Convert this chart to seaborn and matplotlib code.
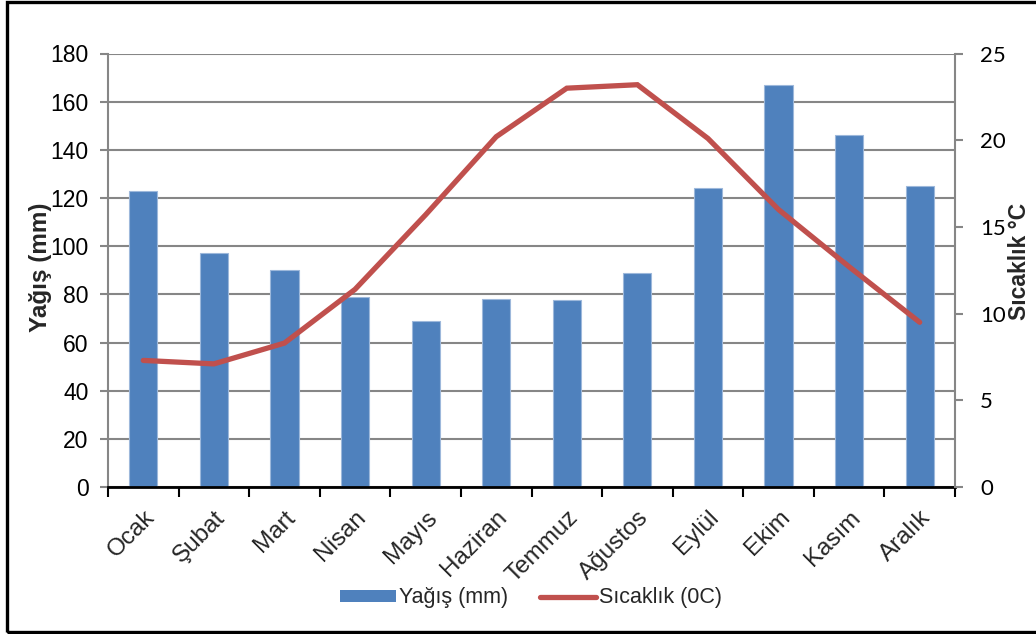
import matplotlib
matplotlib.use("Agg")
import matplotlib.pyplot as plt
import seaborn as sns
import pandas as pd
import numpy as np
from matplotlib.patches import Rectangle, Patch
from matplotlib.lines import Line2D
from matplotlib.ticker import MultipleLocator, FixedLocator

months = ["Ocak", "Şubat", "Mart", "Nisan", "Mayıs", "Haziran",
          "Temmuz", "Ağustos", "Eylül", "Ekim", "Kasım", "Aralık"]
rain_mm = [123, 97, 90, 79, 69, 78, 77.5, 89, 124, 167, 146, 125]
temp_c = [7.3, 7.1, 8.3, 11.4, 15.7, 20.2, 23.0, 23.2, 20.1, 16.0, 12.7, 9.5]

df = pd.DataFrame({"Ay": months, "Yağış": rain_mm, "Sıcaklık": temp_c})

sns.set_theme(style="white")
plt.rcParams["font.family"] = ["Liberation Sans", "DejaVu Sans"]

BAR = "#4F81BD"
LINE = "#C0504D"
GRID = "#868686"

fig = plt.figure(figsize=(10.36, 6.34), dpi=100)
ax = fig.add_axes([108 / 1036, 1 - 487 / 634, 847 / 1036, 433.5 / 634])

sns.barplot(data=df, x="Ay", y="Yağış", color=BAR, width=0.4,
            edgecolor="#9db8db", linewidth=0.8, saturation=1, ax=ax, zorder=3)
ax.set_xlim(-0.5, 11.5)
ax.set_ylim(0, 180)
ax.yaxis.set_major_locator(MultipleLocator(20))
ax.grid(axis="y", color=GRID, linewidth=1.5, zorder=0)
ax.set_axisbelow(True)

ax2 = ax.twinx()
sns.lineplot(x=np.arange(len(months)), y=temp_c, color=LINE, linewidth=3.8,
             ax=ax2, zorder=4, solid_capstyle="round", solid_joinstyle="miter")
ax2.set_ylim(0, 25)
ax2.set_xlim(-0.5, 11.5)
ax2.yaxis.set_major_locator(MultipleLocator(5))
ax2.grid(False)

# spines
for a in (ax, ax2):
    for s in a.spines.values():
        s.set_visible(False)
ax.spines["left"].set_visible(True)
ax.spines["left"].set_color(GRID)
ax.spines["left"].set_linewidth(1.5)
ax2.spines["right"].set_visible(True)
ax2.spines["right"].set_color(GRID)
ax2.spines["right"].set_linewidth(1.5)
ax.spines["bottom"].set_visible(True)
ax.spines["bottom"].set_color("black")
ax.spines["bottom"].set_linewidth(2)
ax.spines["bottom"].set_zorder(5)

# tick styling
ax.tick_params(axis="y", left=True, length=6, width=1.5, color=GRID,
               labelsize=16.5, pad=8, labelcolor="black")
ax2.tick_params(axis="y", right=True, length=6, width=1.5, color=GRID,
                labelsize=16, pad=12, labelcolor="black")
for lbl in ax2.get_yticklabels():
    lbl.set_family(["Lato", "DejaVu Sans"])

ax.xaxis.set_minor_locator(FixedLocator(np.arange(-0.5, 12, 1)))
ax.tick_params(axis="x", which="minor", bottom=True, length=7, width=1.5, color="black")
ax.tick_params(axis="x", which="major", bottom=False, length=0, labelsize=17.5, pad=14)
ax.set_xticks(np.arange(len(months)))
ax.set_xticklabels(months, rotation=45, ha="right", rotation_mode="anchor")
ax.set_xlabel("")

ax.set_ylabel("Yağış (mm)", fontsize=17.5, fontweight="bold")
ax2.set_ylabel("Sıcaklık °C", fontsize=16.5, fontweight="bold")
ax.yaxis.set_label_coords(-0.066, 0.507)
ax2.yaxis.set_label_coords(1.063, 0.52)

handles = [Patch(facecolor=BAR, edgecolor="none"),
           Line2D([0], [0], color=LINE, linewidth=3.8, solid_capstyle="round")]
fig.legend(handles, ["Yağış (mm)", "Sıcaklık (0C)"], loc="center",
           bbox_to_anchor=(531 / 1036, 1 - 598 / 634), ncol=2, frameon=False,
           fontsize=15.5, handlelength=2.6, handleheight=0.5, handletextpad=0.15,
           columnspacing=1.5)

# outer frame
fig.patches.append(Rectangle((6.5 / 1036, 2 / 634), 1.2, 1 - 4 / 634,
                             transform=fig.transFigure, fill=False,
                             edgecolor="black", linewidth=2.4, zorder=10))

fig.savefig("out.png", dpi=100, facecolor="white")
